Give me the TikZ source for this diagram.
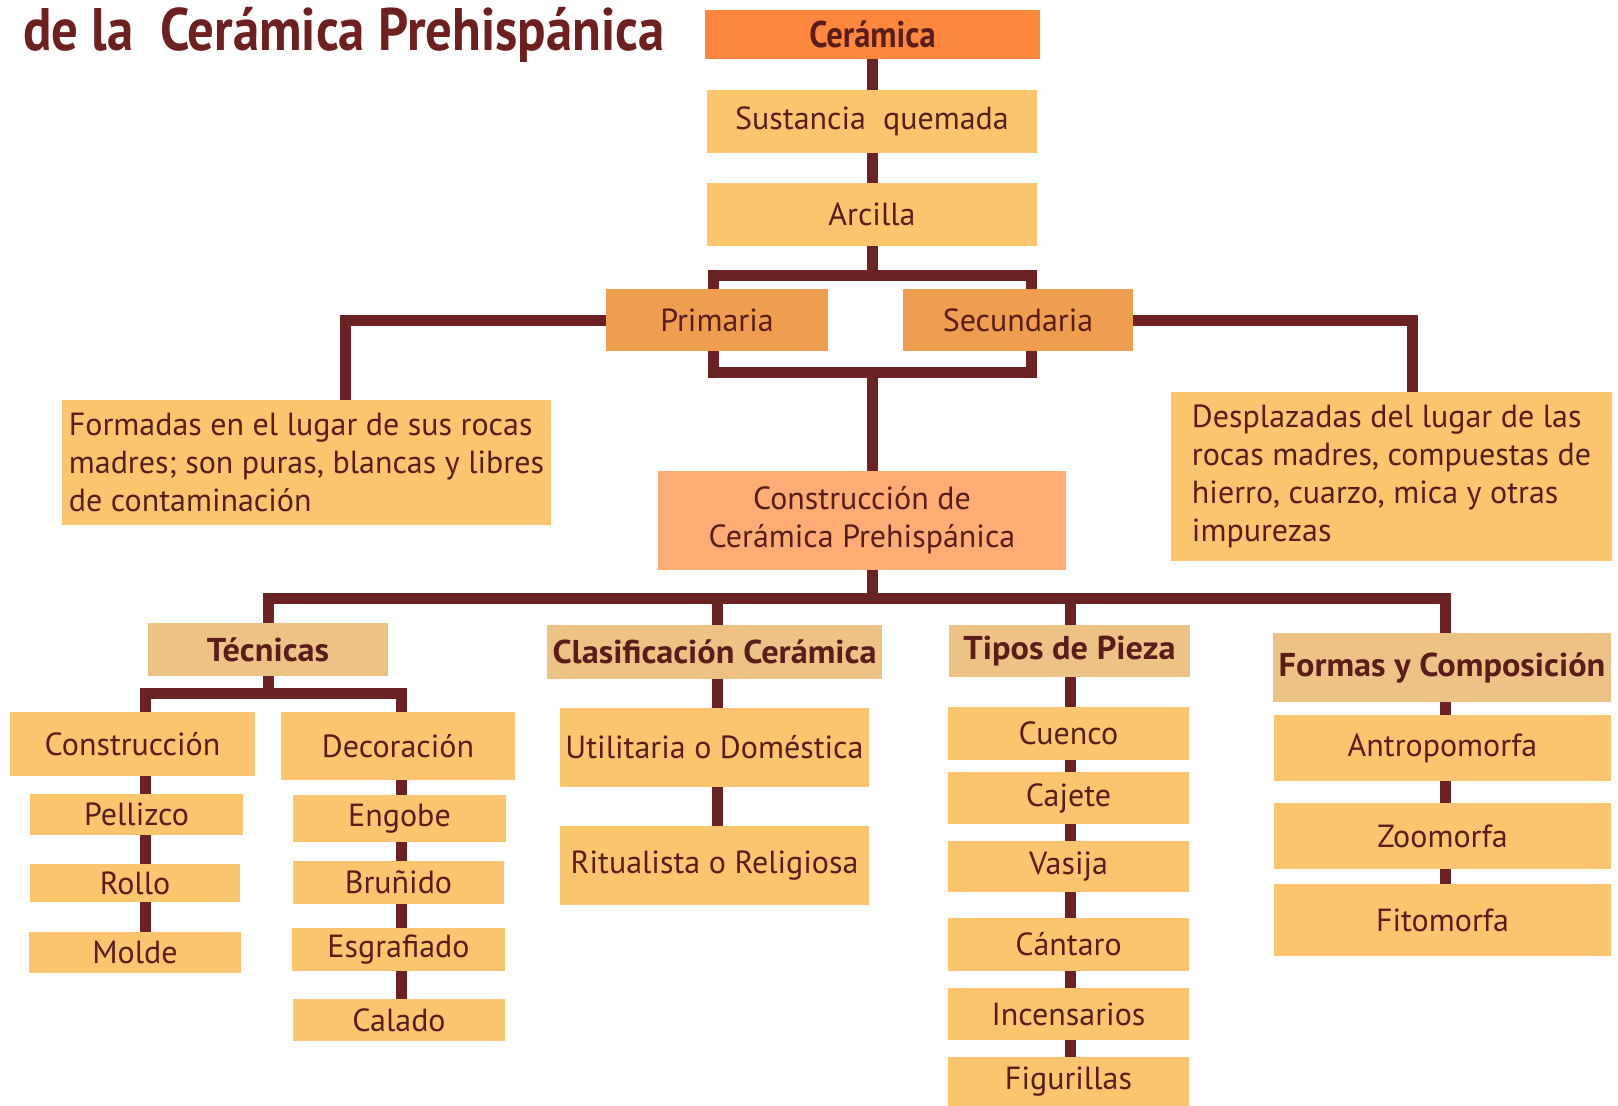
\documentclass[tikz,border=0pt]{standalone}
\usepackage{fontspec}
\setmainfont{PT Sans}
\newfontfamily\titlefont[FakeStretch=0.88]{PT Sans}
\newfontfamily\headfont[FakeStretch=1.04]{PT Sans}
\usetikzlibrary{backgrounds}

\definecolor{linebrown}{HTML}{6B2222}
\definecolor{titlebrown}{HTML}{6E1F1F}
\definecolor{textbrown}{HTML}{5A1D1A}
\definecolor{topfill}{HTML}{FD873D}
\definecolor{boxfill}{HTML}{FBC56F}
\definecolor{midfill}{HTML}{EF9D4E}
\definecolor{basefill}{HTML}{FDAD73}
\definecolor{headfill}{HTML}{EDC385}

\begin{document}
\begin{tikzpicture}[x=1pt,y=-1pt,
    box/.style={fill=boxfill,text=textbrown,inner sep=0pt,align=center,
        font=\fontsize{32pt}{38pt}\selectfont},
    head/.style={box,fill=headfill,font=\headfont\bfseries\fontsize{33pt}{38pt}\selectfont},
    wh/.style 2 args={minimum width=#1pt,minimum height=#2pt},
    link/.style={draw=linebrown,line width=11pt}]
    \useasboundingbox (0,0) rectangle (1618,1106);

    % Title
    \node[anchor=base west,inner sep=0pt,text=titlebrown,
        font=\titlefont\bfseries\fontsize{60pt}{60pt}\selectfont] (title) at (23,50)
        {de la\ \ Cerámica Prehispánica};

    % Top chain
    \node[box,fill=topfill,wh={335}{49},font=\titlefont\bfseries\fontsize{37pt}{37pt}\selectfont]
        (ceramica) at (872.5,34.5) {Cerámica};
    \node[box,wh={330}{63}] (sustancia) at (872,121.5) {Sustancia\ \ quemada};
    \node[box,wh={330}{63}] (arcilla) at (872,214.5) {Arcilla};
    \node[box,fill=midfill,wh={222}{62}] (primaria) at (717,320) {Primaria};
    \node[box,fill=midfill,wh={230}{62}] (secundaria) at (1018,320) {Secundaria};

    % Descriptions
    \node[box,align=left,wh={489}{125}] (formadas) at (306.5,462.5)
        {Formadas en el lugar de sus rocas\\madres; son puras, blancas y libres\\de contaminación};
    \node[box,align=left,wh={441}{169}] (desplazadas) at (1391.5,476.5)
        {Desplazadas del lugar de las\\rocas madres, compuestas de\\hierro, cuarzo, mica y otras\\impurezas};
    \node[box,fill=basefill,wh={408}{99}] (base) at (862,520.5)
        {Construcción de\\Cerámica Prehispánica};

    % Headers
    \node[head,wh={240}{53}] (tecnicas) at (268,649.5) {Técnicas};
    \node[head,wh={335}{54}] (clasificacion) at (714.5,652) {Clasificación Cerámica};
    \node[head,wh={241}{52}] (tipos) at (1069.5,651) {Tipos de Pieza};
    \node[head,wh={338}{69}] (formas) at (1442,667.5) {Formas y Composición};

    % Tecnicas
    \node[box,wh={245}{64}] (construccion) at (132.5,744) {Construcción};
    \node[box,wh={234}{68}] (decoracion) at (398,746) {Decoración};
    \node[box,wh={213}{41}] (pellizco) at (136.5,814.5) {Pellizco};
    \node[box,wh={210}{38}] (rollo) at (135,883) {Rollo};
    \node[box,wh={212}{41}] (molde) at (135,952.5) {Molde};
    \node[box,wh={213}{47}] (engobe) at (399.5,818.5) {Engobe};
    \node[box,wh={211}{43}] (brunido) at (398.5,882.5) {Bruñido};
    \node[box,wh={213}{43}] (esgrafiado) at (398.5,949.5) {Esgrafiado};
    \node[box,wh={212}{42}] (calado) at (399,1020) {Calado};

    % Clasificacion
    \node[box,wh={309}{79}] (utilitaria) at (714.5,747.5) {Utilitaria o Doméstica};
    \node[box,wh={309}{79}] (ritualista) at (714.5,865.5) {Ritualista o Religiosa};

    % Tipos de pieza
    \node[box,wh={241}{53}] (cuenco) at (1068.5,733.5) {Cuenco};
    \node[box,wh={241}{52}] (cajete) at (1068.5,798) {Cajete};
    \node[box,wh={241}{51}] (vasija) at (1068.5,866.5) {Vasija};
    \node[box,wh={241}{53}] (cantaro) at (1068.5,944.5) {Cántaro};
    \node[box,wh={241}{52}] (incensarios) at (1068.5,1014) {Incensarios};
    \node[box,wh={241}{49}] (figurillas) at (1068.5,1081.5) {Figurillas};

    % Formas
    \node[box,wh={337}{66}] (antropomorfa) at (1442.5,748) {Antropomorfa};
    \node[box,wh={337}{66}] (zoomorfa) at (1442.5,836) {Zoomorfa};
    \node[box,wh={337}{72}] (fitomorfa) at (1442.5,920) {Fitomorfa};

    % Columns and bars
    \coordinate (trunk) at (872,0);
    \coordinate (legL) at (713,275);
    \coordinate (legR) at (1031,372);
    \coordinate (lft) at (345,0);
    \coordinate (rgt) at (1412,0);
    \coordinate (bar) at (0,598);
    \coordinate (colT) at (268,0);
    \coordinate (colC) at (717,0);
    \coordinate (colP) at (1070,0);
    \coordinate (colF) at (1445,0);
    \coordinate (tbar) at (270,693);
    \coordinate (colA) at (145,0);
    \coordinate (colB) at (401,0);

    % Connectors
    \begin{scope}[on background layer]
        \draw[link] (ceramica.center -| trunk) -- (trunk |- legL);
        \draw[link] (legL) rectangle (legR);
        \draw[link] (trunk |- legR) -- (trunk |- bar);
        \draw[link] (primaria.center) -| (lft |- formadas.center);
        \draw[link] (secundaria.center) -| (rgt |- desplazadas.center);
        \draw[link] (colT |- tecnicas.center) |- (trunk |- bar) -| (colF |- fitomorfa.center);
        \draw[link] (colC |- bar) -- (colC |- ritualista.center);
        \draw[link] (colP |- bar) -- (colP |- figurillas.center);
        \draw[link] (tecnicas.center) -- (tecnicas.center |- tbar);
        \draw[link] (colA |- molde.center) |- (tbar) -| (colB |- calado.center);
    \end{scope}
\end{tikzpicture}
\end{document}
